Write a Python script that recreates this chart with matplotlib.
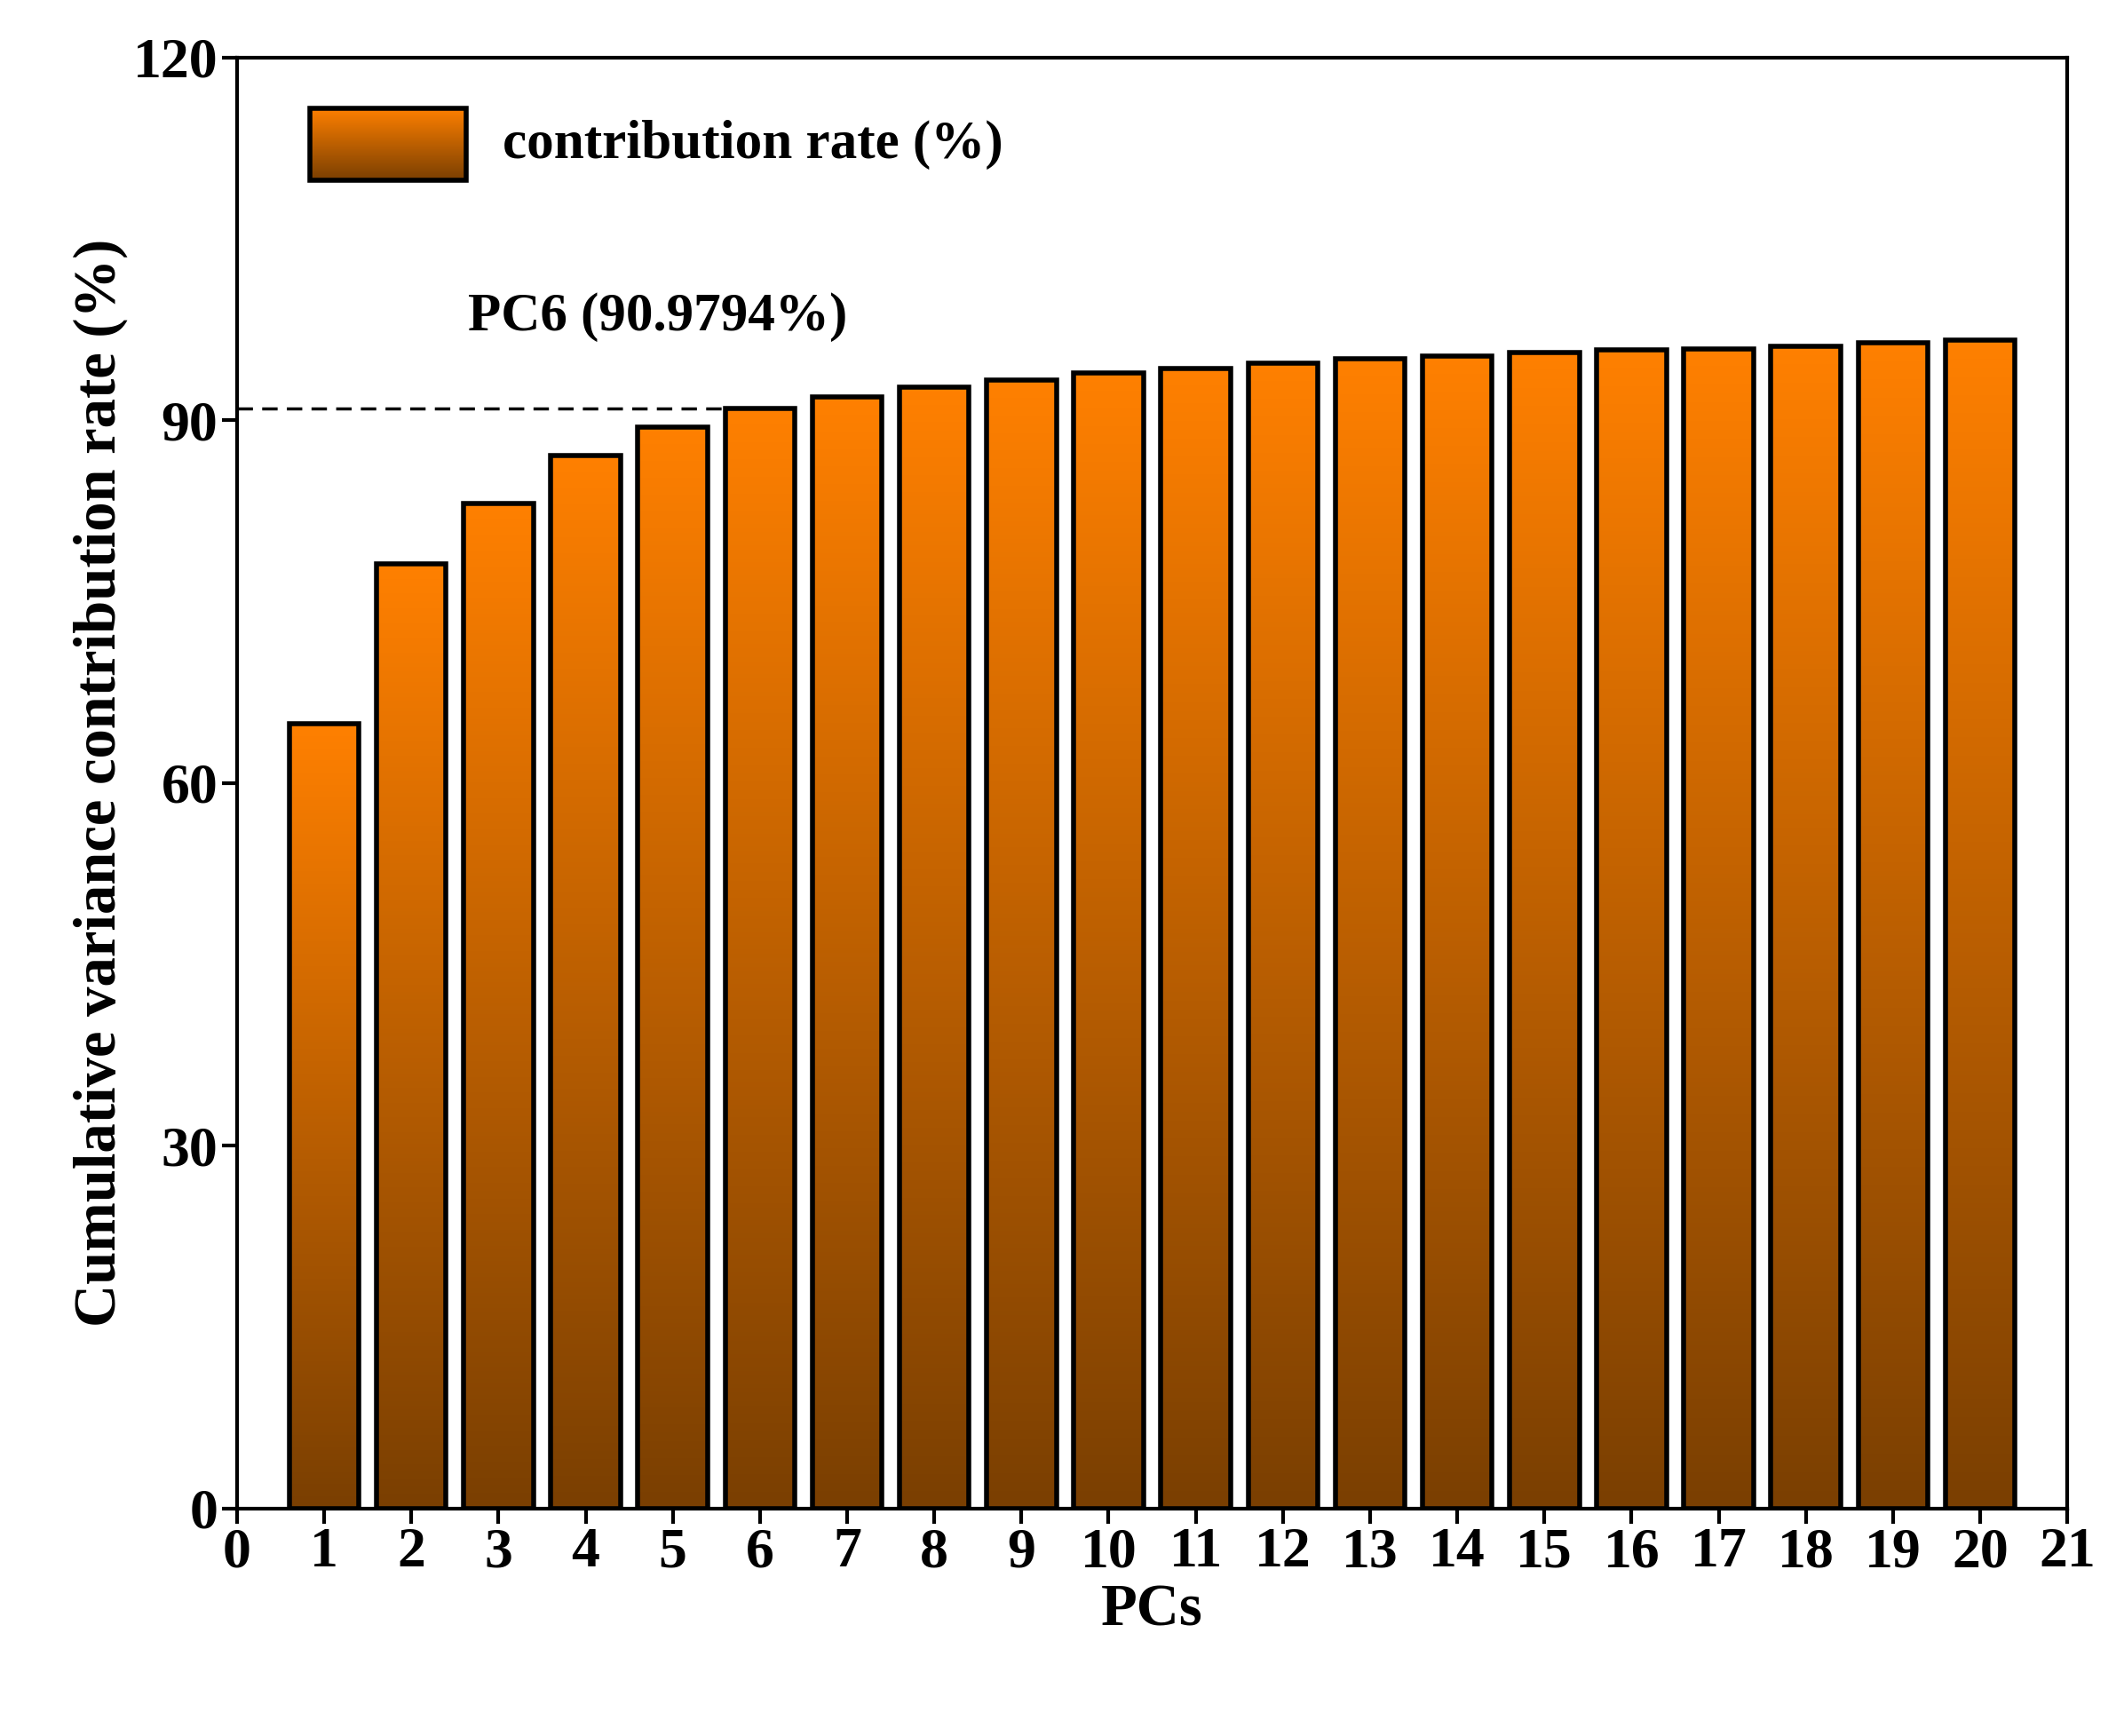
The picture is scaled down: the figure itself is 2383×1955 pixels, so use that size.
import numpy as np
import matplotlib
matplotlib.use("Agg")
import matplotlib.pyplot as plt
from matplotlib.patches import Rectangle
from matplotlib.colors import LinearSegmentedColormap

pcs = list(range(1, 21))
cum_rate = [64.9, 78.1, 83.1, 87.1, 89.4, 90.9794, 91.9, 92.7, 93.3, 93.9,
            94.3, 94.7, 95.1, 95.3, 95.6, 95.8, 95.9, 96.1, 96.4, 96.6]
xticks = list(range(0, 22))
yticks = [0, 30, 60, 90, 120]

plt.rcParams["font.family"] = "Liberation Serif"
plt.rcParams["font.weight"] = "bold"
fig = plt.figure(figsize=(23.83, 19.55), dpi=100)
ax = fig.add_axes([0.112, 0.131, 0.865, 0.836])
cmap = LinearSegmentedColormap.from_list("ob", ["#7a3f02", "#ff8000"])
grad = np.linspace(0, 1, 256).reshape(-1, 1)

bars = ax.bar(pcs, cum_rate, width=0.8, facecolor="none", edgecolor="black", linewidth=4, zorder=3)
for b in bars:
    x0, y0, w, h = b.get_x(), b.get_y(), b.get_width(), b.get_height()
    im = ax.imshow(grad, cmap=cmap, aspect="auto", origin="lower",
                   extent=[x0, x0 + w, 0, h], zorder=2)
    im.set_clip_path(b)

ax.plot([0, 6], [cum_rate[5], cum_rate[5]], ls=(0, (5, 3)), color="black", lw=2.5, zorder=1)
ax.text(2.65, 96.5, "PC6 (90.9794%)", fontsize=44, fontweight="bold", va="bottom")

# legend
lx, ly, lw_, lh = 0.04, 0.915, 0.085, 0.05
ax.imshow(grad, cmap=cmap, aspect="auto", origin="lower", transform=ax.transAxes,
          extent=[lx, lx + lw_, ly, ly + lh], zorder=4)
ax.add_patch(Rectangle((lx, ly), lw_, lh, transform=ax.transAxes, fill=False,
                       edgecolor="black", lw=4, zorder=5))
ax.text(lx + lw_ + 0.02, ly + lh / 2, "contribution rate (%)", transform=ax.transAxes,
        fontsize=44, fontweight="bold", va="center")

ax.set_xlim(0, 21)
ax.set_ylim(0, 120)
ax.set_xticks(xticks)
ax.set_yticks(yticks)
ax.tick_params(labelsize=46, width=3, length=12, direction="out")
for s in ax.spines.values():
    s.set_linewidth(3)
ax.set_xlabel("PCs", fontsize=48, fontweight="bold")
ax.set_ylabel("Cumulative variance contribution rate (%)", fontsize=48, fontweight="bold")
fig.savefig("out.png", dpi=100)
